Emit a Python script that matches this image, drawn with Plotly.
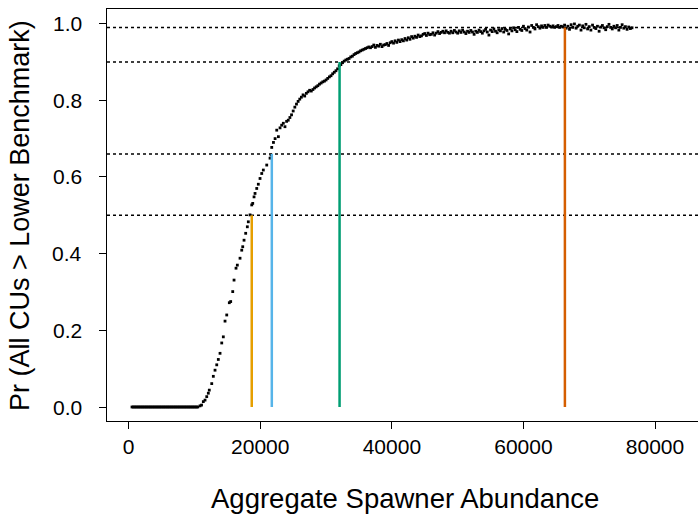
import plotly.graph_objects as go

# ---- data ----
x_zero = list(range(500, 10700, 200))
y_zero = [0.0] * len(x_zero)

x_rise = [10840, 11070, 11340, 11600, 11860, 12100, 12250, 12620, 12860, 13120,
          13380, 13620, 13880, 14140, 14380, 14640, 14900, 15290, 15500, 15810,
          16010, 16310, 16510, 16920, 17180, 17330, 17530, 17780, 18030, 18180,
          18440, 18700, 18850, 19050, 19200, 19460, 19700, 19960, 20220, 20460,
          20980, 21480, 21630, 21740]
y_rise = [0.003, 0.005, 0.014, 0.018, 0.027, 0.036, 0.044, 0.061, 0.080, 0.096,
          0.110, 0.124, 0.140, 0.167, 0.183, 0.224, 0.240, 0.272, 0.275, 0.301,
          0.331, 0.362, 0.370, 0.388, 0.409, 0.418, 0.435, 0.453, 0.470, 0.483,
          0.501, 0.527, 0.531, 0.548, 0.557, 0.570, 0.581, 0.596, 0.609, 0.618,
          0.631, 0.649, 0.657, 0.677]

x_bend = list(range(22000, 37000, 250))
y_bend = [0.690, 0.700, 0.722, 0.705,
          0.728, 0.735, 0.740, 0.731,
          0.745, 0.748, 0.755, 0.762,
          0.772, 0.782, 0.790, 0.797,
          0.803, 0.808, 0.814, 0.811,
          0.818, 0.822, 0.826, 0.824,
          0.828, 0.832, 0.835, 0.838,
          0.842, 0.845, 0.848, 0.850,
          0.853, 0.857, 0.861, 0.864,
          0.869, 0.873, 0.877, 0.882,
          0.890, 0.893, 0.898, 0.902,
          0.905, 0.907, 0.909, 0.913,
          0.915, 0.919, 0.922, 0.924,
          0.926, 0.929, 0.931, 0.933,
          0.935, 0.937, 0.939, 0.937]

x_plateau = list(range(37000, 76501, 250))
y_plateau = [0.940, 0.944, 0.938, 0.943,
             0.941, 0.946, 0.940, 0.944,
             0.945, 0.948, 0.943, 0.950,
             0.953, 0.949, 0.955, 0.951,
             0.957, 0.953, 0.958, 0.955,
             0.961, 0.957, 0.963, 0.959,
             0.966, 0.962, 0.967, 0.964,
             0.970, 0.966, 0.968, 0.972,
             0.974, 0.969, 0.975, 0.971,
             0.972, 0.976, 0.970, 0.975,
             0.979, 0.974, 0.977, 0.980,
             0.976, 0.981, 0.977, 0.975,
             0.980, 0.976, 0.982, 0.978,
             0.975, 0.981, 0.977, 0.983,
             0.978, 0.974, 0.980, 0.977,
             0.982, 0.978, 0.972, 0.980,
             0.977, 0.983, 0.979, 0.975,
             0.981, 0.985, 0.978, 0.970,
             0.983, 0.979, 0.986, 0.980,
             0.976, 0.984, 0.981, 0.987,
             0.978, 0.985, 0.982, 0.973,
             0.986, 0.981, 0.989, 0.984,
             0.979, 0.990, 0.985, 0.982,
             0.993, 0.987, 0.983, 0.991,
             0.978, 0.995, 0.990, 0.986,
             0.997, 0.992, 0.988, 0.994,
             0.990, 0.995, 0.990, 0.996,
             0.993, 0.991, 0.994, 0.990,
             0.992, 0.995, 0.990, 0.993,
             0.991, 0.996, 0.988, 0.993,
             0.985, 0.997, 0.990, 0.999,
             0.988, 0.993, 0.996, 0.983,
             0.994, 0.989, 0.998, 0.986,
             0.992, 0.983, 0.996, 0.990,
             0.987, 0.993, 0.980, 0.991,
             0.995, 0.989, 0.984, 0.992,
             0.998, 0.990, 0.986, 0.993,
             0.989, 0.995, 0.983, 0.990,
             0.997, 0.988, 0.992, 0.985,
             0.991, 0.987, 0.989]

prob_levels = [0.5, 0.66, 0.9, 0.99]
benchmark_x = [18700, 21750, 32050, 66300]
benchmark_colors = ["#E69F00", "#56B4E9", "#009E73", "#D55E00"]

x_ticks = [0, 20000, 40000, 60000, 80000]
y_ticks = [0.0, 0.2, 0.4, 0.6, 0.8, 1.0]

x_all = x_zero + x_rise + x_bend + x_plateau
y_all = y_zero + y_rise + y_bend + y_plateau

FONT = "Liberation Sans, Arial, sans-serif"

fig = go.Figure()
fig.add_trace(go.Scatter(
    x=x_all, y=y_all, mode="markers",
    marker=dict(symbol="square", size=2.8, color="black", line=dict(width=0)),
    hoverinfo="skip", showlegend=False,
))

for p in prob_levels:
    fig.add_shape(type="line", xref="paper", yref="y", x0=0, x1=1, y0=p, y1=p,
                  line=dict(color="black", width=1.5, dash="dot"), layer="above")

for bx, p, c in zip(benchmark_x, prob_levels, benchmark_colors):
    fig.add_shape(type="line", xref="x", yref="y", x0=bx, x1=bx, y0=0, y1=p,
                  line=dict(color=c, width=2.5), layer="above")

annotations = [
    dict(text="Aggregate Spawner Abundance", xref="paper", yref="paper",
         x=(405 - 107) / 591, y=(421 - 498) / 412, showarrow=False,
         xanchor="center", yanchor="middle", font=dict(size=27.5)),
    dict(text="Pr (All CUs > Lower Benchmark)", xref="paper", yref="paper",
         x=(20 - 107) / 591, y=(421 - 216) / 412, showarrow=False,
         textangle=-90, xanchor="center", yanchor="middle",
         font=dict(size=27)),
]
for v in y_ticks:
    annotations.append(dict(text=f"{v:.1f}", xref="paper", yref="y",
                            x=(84 - 107) / 591, y=v, showarrow=False,
                            xanchor="right", yanchor="middle",
                            font=dict(size=21)))

fig.update_layout(
    width=698, height=517,
    margin=dict(l=107, r=0, t=9, b=96),
    paper_bgcolor="white", plot_bgcolor="white",
    font=dict(family=FONT, size=21, color="black"),
    showlegend=False,
    xaxis=dict(range=[-3300, 86530], tickvals=x_ticks,
               ticktext=[str(v) for v in x_ticks],
               showgrid=False, zeroline=False, showline=True, mirror=True,
               linecolor="black", linewidth=1, ticks="outside", ticklen=7,
               tickcolor="black", tickfont=dict(size=21)),
    yaxis=dict(range=[-0.0365, 1.038], tickvals=y_ticks,
               showticklabels=False,
               showgrid=False, zeroline=False, showline=True, mirror=False,
               linecolor="black", linewidth=1, ticks="outside", ticklen=7,
               tickcolor="black"),
    annotations=annotations,
)

fig.write_html(
    "out.html",
    config={"displayModeBar": False},
    post_script="document.body.style.margin='0';document.body.style.overflow='hidden';",
)
